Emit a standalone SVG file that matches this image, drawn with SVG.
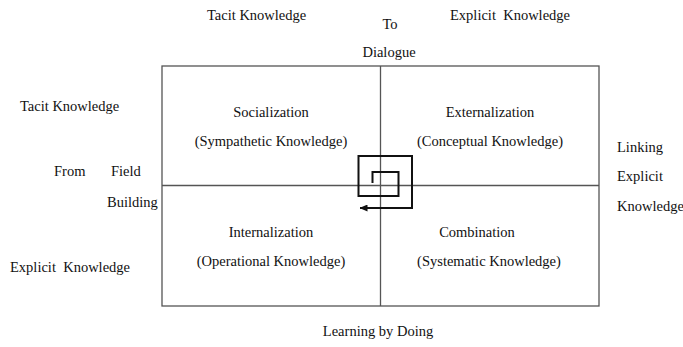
<svg xmlns="http://www.w3.org/2000/svg" width="683" height="347" viewBox="0 0 683 347">
<style>
text{font-family:"Liberation Serif","Times New Roman",serif;font-size:14.5px;fill:#111;white-space:pre}
.c{text-anchor:middle}
.frame{fill:none;stroke:#555;stroke-width:1.3}
.spiral{fill:none;stroke:#111;stroke-width:2}
</style>
<defs>
<marker id="ah" viewBox="0 0 8 7" refX="7.5" refY="3.5" markerWidth="4" markerHeight="3.5" orient="auto" markerUnits="strokeWidth">
<path d="M0,0 L8,3.5 L0,7 z" fill="#111"/>
</marker>
</defs>
<rect fill="#fff" width="683" height="347"/>
<g id="frame">
<rect class="frame" x="162" y="66" width="437" height="240"/>
<line class="frame" x1="380.5" y1="66" x2="380.5" y2="306"/>
<line class="frame" x1="162" y1="185.5" x2="599" y2="185.5"/>
</g>
<g id="labels">
<text x="207" y="20">Tacit Knowledge</text>
<text class="c" x="390" y="29">To</text>
<text x="450" y="20" xml:space="preserve">Explicit  Knowledge</text>
<text class="c" x="389" y="57">Dialogue</text>
<text x="20" y="111">Tacit Knowledge</text>
<text x="54" y="176">From</text>
<text x="111" y="176">Field</text>
<text x="107" y="207">Building</text>
<text x="10" y="272" xml:space="preserve">Explicit  Knowledge</text>
<text x="617" y="152">Linking</text>
<text x="617" y="181">Explicit</text>
<text x="617" y="211">Knowledge</text>
<text class="c" x="378" y="336">Learning by Doing</text>
</g>
<g id="socialization">
<text class="c" x="271" y="117">Socialization</text>
<text class="c" x="271" y="146">(Sympathetic Knowledge)</text>
</g>
<g id="externalization">
<text class="c" x="490" y="117">Externalization</text>
<text class="c" x="490" y="146">(Conceptual Knowledge)</text>
</g>
<g id="internalization">
<text class="c" x="271" y="237">Internalization</text>
<text class="c" x="271" y="266">(Operational Knowledge)</text>
</g>
<g id="combination">
<text class="c" x="477" y="237">Combination</text>
<text class="c" x="489" y="266">(Systematic Knowledge)</text>
</g>
<g id="connectors">
<path class="spiral" d="M372.5,183 V172 H398.5 V196 H358.5 V156 H412 V208 H360" marker-end="url(#ah)"/>
</g>
</svg>
